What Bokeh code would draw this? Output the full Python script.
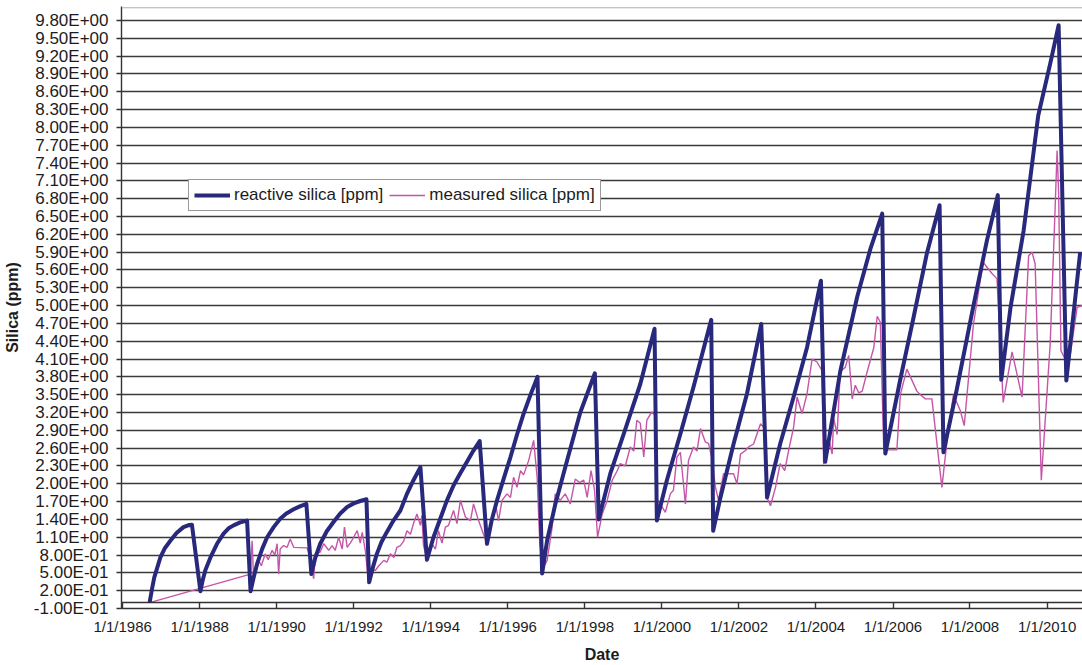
from datetime import datetime
from bokeh.plotting import figure
from bokeh.models import FixedTicker, Span, Range1d
from bokeh.embed import file_html
from bokeh.resources import INLINE

# ---------------- data (dates as decimal years) ----------------
reactive_t = [1986.70, 1986.76, 1986.82, 1986.98, 1987.10, 1987.24, 1987.40, 1987.58, 1987.70, 1987.80, 1988.02,
              1988.08, 1988.15, 1988.28, 1988.45, 1988.62, 1988.75, 1988.88, 1989.05, 1989.23, 1989.32,
              1989.40, 1989.49, 1989.62, 1989.75, 1989.92, 1990.09, 1990.25, 1990.44, 1990.60, 1990.77, 1990.90,
              1991.00, 1991.13, 1991.30, 1991.48, 1991.65, 1991.83, 1992.00, 1992.17, 1992.33, 1992.40,
              1992.50, 1992.60, 1992.72, 1992.86, 1993.03, 1993.21, 1993.38, 1993.55, 1993.73, 1993.90,
              1994.07, 1994.25, 1994.42, 1994.59, 1994.77, 1994.94, 1995.10, 1995.27, 1995.46,
              1995.58, 1995.72, 1995.90, 1996.07, 1996.24, 1996.41, 1996.59, 1996.77, 1996.89,
              1997.02, 1997.23, 1997.55, 1997.88, 1998.26, 1998.36,
              1998.66, 1999.01, 1999.44, 1999.81, 1999.87,
              2000.13, 2000.48, 2000.82, 2001.28, 2001.33,
              2001.52, 2001.86, 2002.21, 2002.58, 2002.73,
              2003.07, 2003.42, 2003.77, 2004.13, 2004.24,
              2004.63, 2005.07, 2005.41, 2005.72, 2005.80,
              2006.19, 2006.54, 2006.88, 2007.21, 2007.31,
              2007.66, 2008.09, 2008.44, 2008.72, 2008.81,
              2009.05, 2009.39, 2009.77, 2010.08, 2010.30, 2010.50,
              2010.86]
reactive_v = [0.00, 0.22, 0.42, 0.76, 0.92, 1.04, 1.17, 1.27, 1.30, 1.31, 0.19,
              0.38, 0.55, 0.76, 0.99, 1.16, 1.25, 1.30, 1.35, 1.38, 0.19,
              0.42, 0.65, 0.90, 1.10, 1.27, 1.41, 1.50, 1.57, 1.62, 1.66, 0.48,
              0.75, 0.99, 1.20, 1.36, 1.50, 1.61, 1.67, 1.71, 1.74, 0.34,
              0.60, 0.82, 1.02, 1.19, 1.38, 1.55, 1.83, 2.06, 2.28, 0.72,
              1.10, 1.42, 1.72, 1.97, 2.18, 2.37, 2.55, 2.72, 0.99,
              1.38, 1.72, 2.10, 2.45, 2.83, 3.18, 3.50, 3.80, 0.49,
              1.05, 1.65, 2.42, 3.20, 3.86, 1.40,
              2.17, 2.84, 3.68, 4.61, 1.38,
              2.06, 2.84, 3.63, 4.76, 1.21,
              1.77, 2.67, 3.52, 4.69, 1.77,
              2.67, 3.46, 4.30, 5.42, 2.37,
              3.89, 5.15, 5.95, 6.55, 2.51,
              3.76, 4.82, 5.88, 6.69, 2.53,
              3.60, 5.00, 6.10, 6.86, 3.75,
              4.97, 6.26, 8.20, 9.07, 9.72, 3.74,
              5.90]

measured_t = [1986.70, 1989.32, 1989.36, 1989.40, 1989.47, 1989.53, 1989.60,
              1989.70, 1989.78, 1989.88, 1989.95, 1990.01, 1990.05, 1990.09,
              1990.18, 1990.27, 1990.35, 1990.44, 1990.79, 1990.87, 1990.96,
              1991.00, 1991.13, 1991.22, 1991.35, 1991.44, 1991.52, 1991.61,
              1991.70, 1991.76, 1991.83, 1991.91, 1992.00, 1992.09, 1992.17,
              1992.22, 1992.30, 1992.36, 1992.47, 1992.56, 1992.65, 1992.78,
              1992.86, 1992.95, 1993.04, 1993.12, 1993.21, 1993.30, 1993.38,
              1993.47, 1993.55, 1993.64, 1993.73, 1993.77, 1993.81, 1993.90,
              1994.03, 1994.12, 1994.20, 1994.29, 1994.38, 1994.46, 1994.59,
              1994.68, 1994.77, 1994.90, 1995.03, 1995.11, 1995.24, 1995.46,
              1995.55, 1995.68, 1995.76, 1995.85, 1995.98, 1996.07, 1996.15,
              1996.24, 1996.33, 1996.41, 1996.54, 1996.67, 1996.76, 1996.83,
              1996.91, 1997.02, 1997.15, 1997.23, 1997.36, 1997.49, 1997.62,
              1997.75, 1997.86, 1997.97, 1998.06, 1998.16, 1998.25, 1998.33,
              1998.45, 1998.58, 1998.71, 1998.84, 1998.92, 1999.05, 1999.18,
              1999.27, 1999.35, 1999.44, 1999.53, 1999.61, 1999.74, 1999.83,
              1999.87, 1999.96, 2000.09, 2000.22, 2000.30, 2000.39, 2000.48,
              2000.61, 2000.69, 2000.82, 2000.91, 2001.00, 2001.13, 2001.21,
              2001.30, 2001.39, 2001.47, 2001.60, 2001.73, 2001.86, 2001.95,
              2002.04, 2002.17, 2002.25, 2002.38, 2002.56, 2002.64, 2002.73,
              2002.82, 2002.95, 2003.07, 2003.19, 2003.29, 2003.42, 2003.51,
              2003.64, 2003.77, 2003.90, 2004.03, 2004.16, 2004.20, 2004.33,
              2004.42, 2004.46, 2004.55, 2004.63, 2004.76, 2004.85, 2004.94,
              2005.02, 2005.11, 2005.20, 2005.33, 2005.50, 2005.59, 2005.67,
              2005.76, 2006.10, 2006.19, 2006.36, 2006.62, 2006.71, 2006.84,
              2007.01, 2007.27, 2007.40, 2007.57, 2007.75, 2007.85, 2008.09,
              2008.34, 2008.57, 2008.70, 2008.86, 2009.09, 2009.35, 2009.52,
              2009.61, 2009.69, 2009.85, 2010.08, 2010.21, 2010.26, 2010.30,
              2010.36, 2010.56, 2010.78, 2010.91]
measured_v = [0.00, 0.48, 1.04, 0.40, 0.55, 0.71, 0.62,
              0.82, 0.72, 0.88, 0.80, 0.99, 0.48, 0.90,
              0.96, 0.93, 1.07, 0.93, 0.92, 0.76, 0.40,
              0.82, 0.85, 0.99, 0.88, 0.96, 0.88, 1.10,
              0.90, 1.27, 0.93, 1.00, 1.10, 1.21, 1.00,
              1.18, 0.88, 0.50, 0.57, 0.54, 0.62, 0.71,
              0.68, 0.82, 0.76, 0.93, 0.96, 1.04, 1.21,
              1.15, 1.33, 1.49, 1.30, 1.47, 0.96, 0.74,
              0.99, 0.90, 1.21, 1.00, 1.27, 1.30, 1.55,
              1.33, 1.72, 1.44, 1.38, 1.66, 1.38, 0.99,
              1.33, 1.66, 1.38, 1.72, 1.83, 1.77, 2.11,
              1.94, 2.22, 2.15, 2.39, 2.73, 2.11, 0.99,
              0.57, 0.71, 1.27, 1.83, 1.72, 1.83, 1.66,
              2.08, 2.02, 2.06, 1.77, 2.22, 1.90, 1.10,
              1.49, 1.72, 2.06, 2.22, 2.34, 2.30, 2.62,
              2.55, 3.07, 3.02, 2.45, 3.07, 3.21, 3.15,
              1.72, 1.66, 1.52, 1.83, 1.89, 2.45, 2.53,
              1.66, 2.39, 2.62, 2.55, 2.93, 2.70, 2.68,
              2.42, 1.94, 1.72, 2.17, 2.17, 2.17, 2.00,
              2.50, 2.56, 2.62, 2.67, 3.01, 2.95, 1.77,
              1.63, 1.94, 2.34, 2.22, 2.56, 2.95, 3.46,
              3.18, 3.52, 4.10, 4.05, 3.90, 2.33, 2.77,
              2.50, 3.10, 2.83, 3.89, 3.96, 4.16, 3.43,
              3.66, 3.53, 3.56, 3.89, 4.29, 4.82, 4.72,
              2.57, 2.57, 3.50, 3.93, 3.56, 3.50, 3.43,
              3.43, 1.94, 2.70, 3.50, 3.23, 2.98, 4.69,
              5.73, 5.54, 5.45, 3.37, 4.22, 3.46, 5.84,
              5.90, 5.70, 2.06, 4.35, 6.66, 7.61, 6.90,
              4.24, 3.99, 4.97, 5.00]

x_tick_years = [1986, 1988, 1990, 1992, 1994, 1996, 1998, 2000, 2002, 2004,
                2006, 2008, 2010]
x_tick_labels = ["1/1/1986", "1/1/1988", "1/1/1990", "1/1/1992", "1/1/1994",
                 "1/1/1996", "1/1/1998", "1/1/2000", "1/1/2002", "1/1/2004",
                 "1/1/2006", "1/1/2008", "1/1/2010"]
y_tick_values = [round(-0.1 + 0.3 * k, 2) for k in range(34)]
y_tick_labels = ["%.2E" % v for v in y_tick_values]

series_names = ["reactive silica [ppm]", "measured silica [ppm]"]
x_title = "Date"
y_title = "Silica (ppm)"


def to_dt(y):
    yr = int(y)
    frac = y - yr
    a = datetime(yr, 1, 1)
    b = datetime(yr + 1, 1, 1)
    return a + (b - a) * frac


def ms(d):
    return (d - datetime(1970, 1, 1)).total_seconds() * 1000.0


rt = [to_dt(v) for v in reactive_t]
mt = [to_dt(v) for v in measured_t]

TEXT = "#1c1c1c"
FONT = "Liberation Sans"
X0, X1 = 1985.97, 2010.92
Y0, Y1 = -0.1, 10.036

p = figure(width=1082, height=665, x_axis_type="datetime",
           output_backend="svg", toolbar_location=None,
           x_range=Range1d(to_dt(X0), to_dt(X1)),
           y_range=Range1d(Y0, Y1),
           min_border_left=121, min_border_right=0, min_border_top=6,
           min_border_bottom=57)
p.background_fill_color = "white"
p.border_fill_color = "white"
p.outline_line_color = None

# grid
p.xgrid.visible = False
p.ygrid.grid_line_color = "#3a3a3a"
p.ygrid.grid_line_width = 1.4

# axes
xt = [ms(datetime(y, 1, 1)) for y in x_tick_years]
p.xaxis.ticker = FixedTicker(ticks=xt)
p.xaxis.major_label_overrides = {t: l for t, l in zip(xt, x_tick_labels)}
p.yaxis.ticker = FixedTicker(ticks=y_tick_values)
p.yaxis.major_label_overrides = {v: l for v, l in zip(y_tick_values, y_tick_labels)}

for ax in (p.xaxis[0], p.yaxis[0]):
    ax.axis_line_color = "#333333"
    ax.axis_line_width = 1.4
    ax.major_tick_line_color = "#333333"
    ax.major_tick_line_width = 1.4
    ax.minor_tick_line_color = None
    ax.major_label_text_font = FONT
    ax.major_label_text_color = TEXT
    ax.axis_label_text_font = FONT
    ax.axis_label_text_font_style = "bold"
    ax.axis_label_text_color = TEXT
    ax.axis_label_text_font_size = "16px"

p.xaxis.major_tick_in = 6
p.xaxis.major_tick_out = 0
p.xaxis.major_label_standoff = 9
p.xaxis.major_label_text_font_size = "15px"
p.xaxis.axis_label = x_title
p.xaxis.axis_label_standoff = 8

p.yaxis.major_tick_in = 0
p.yaxis.major_tick_out = 5
p.yaxis.major_label_standoff = 8
p.yaxis.major_label_text_font_size = "17px"
p.yaxis.axis_label = y_title
p.yaxis.axis_label_standoff = 10

# horizontal axis crossing at 0, and light top border of the plot area
p.add_layout(Span(location=0, dimension="width", line_color="#333333",
                  line_width=1.4))
p.add_layout(Span(location=10.015, dimension="width", line_color="#b0b0b0",
                  line_width=1.2))

# series
p.line(mt, measured_v, line_color="#C655A8", line_width=1.4,
       legend_label=series_names[1])
p.line(rt, reactive_v, line_color="#28297C", line_width=4,
       line_join="round", legend_label=series_names[0])

leg = p.legend[0]
leg.items = [leg.items[1], leg.items[0]]
leg.orientation = "horizontal"
leg.location = (67, 397)
leg.padding = 5
leg.margin = 0
leg.spacing = 6
leg.glyph_width = 36
leg.glyph_height = 18
leg.label_height = 18
leg.label_standoff = 4
leg.label_text_font = FONT
leg.label_text_font_size = "17px"
leg.label_text_color = TEXT
leg.border_line_color = "#333333"
leg.border_line_width = 1.4
leg.background_fill_color = "white"
leg.background_fill_alpha = 1.0

open("out.html", "w").write(file_html(p, INLINE))
